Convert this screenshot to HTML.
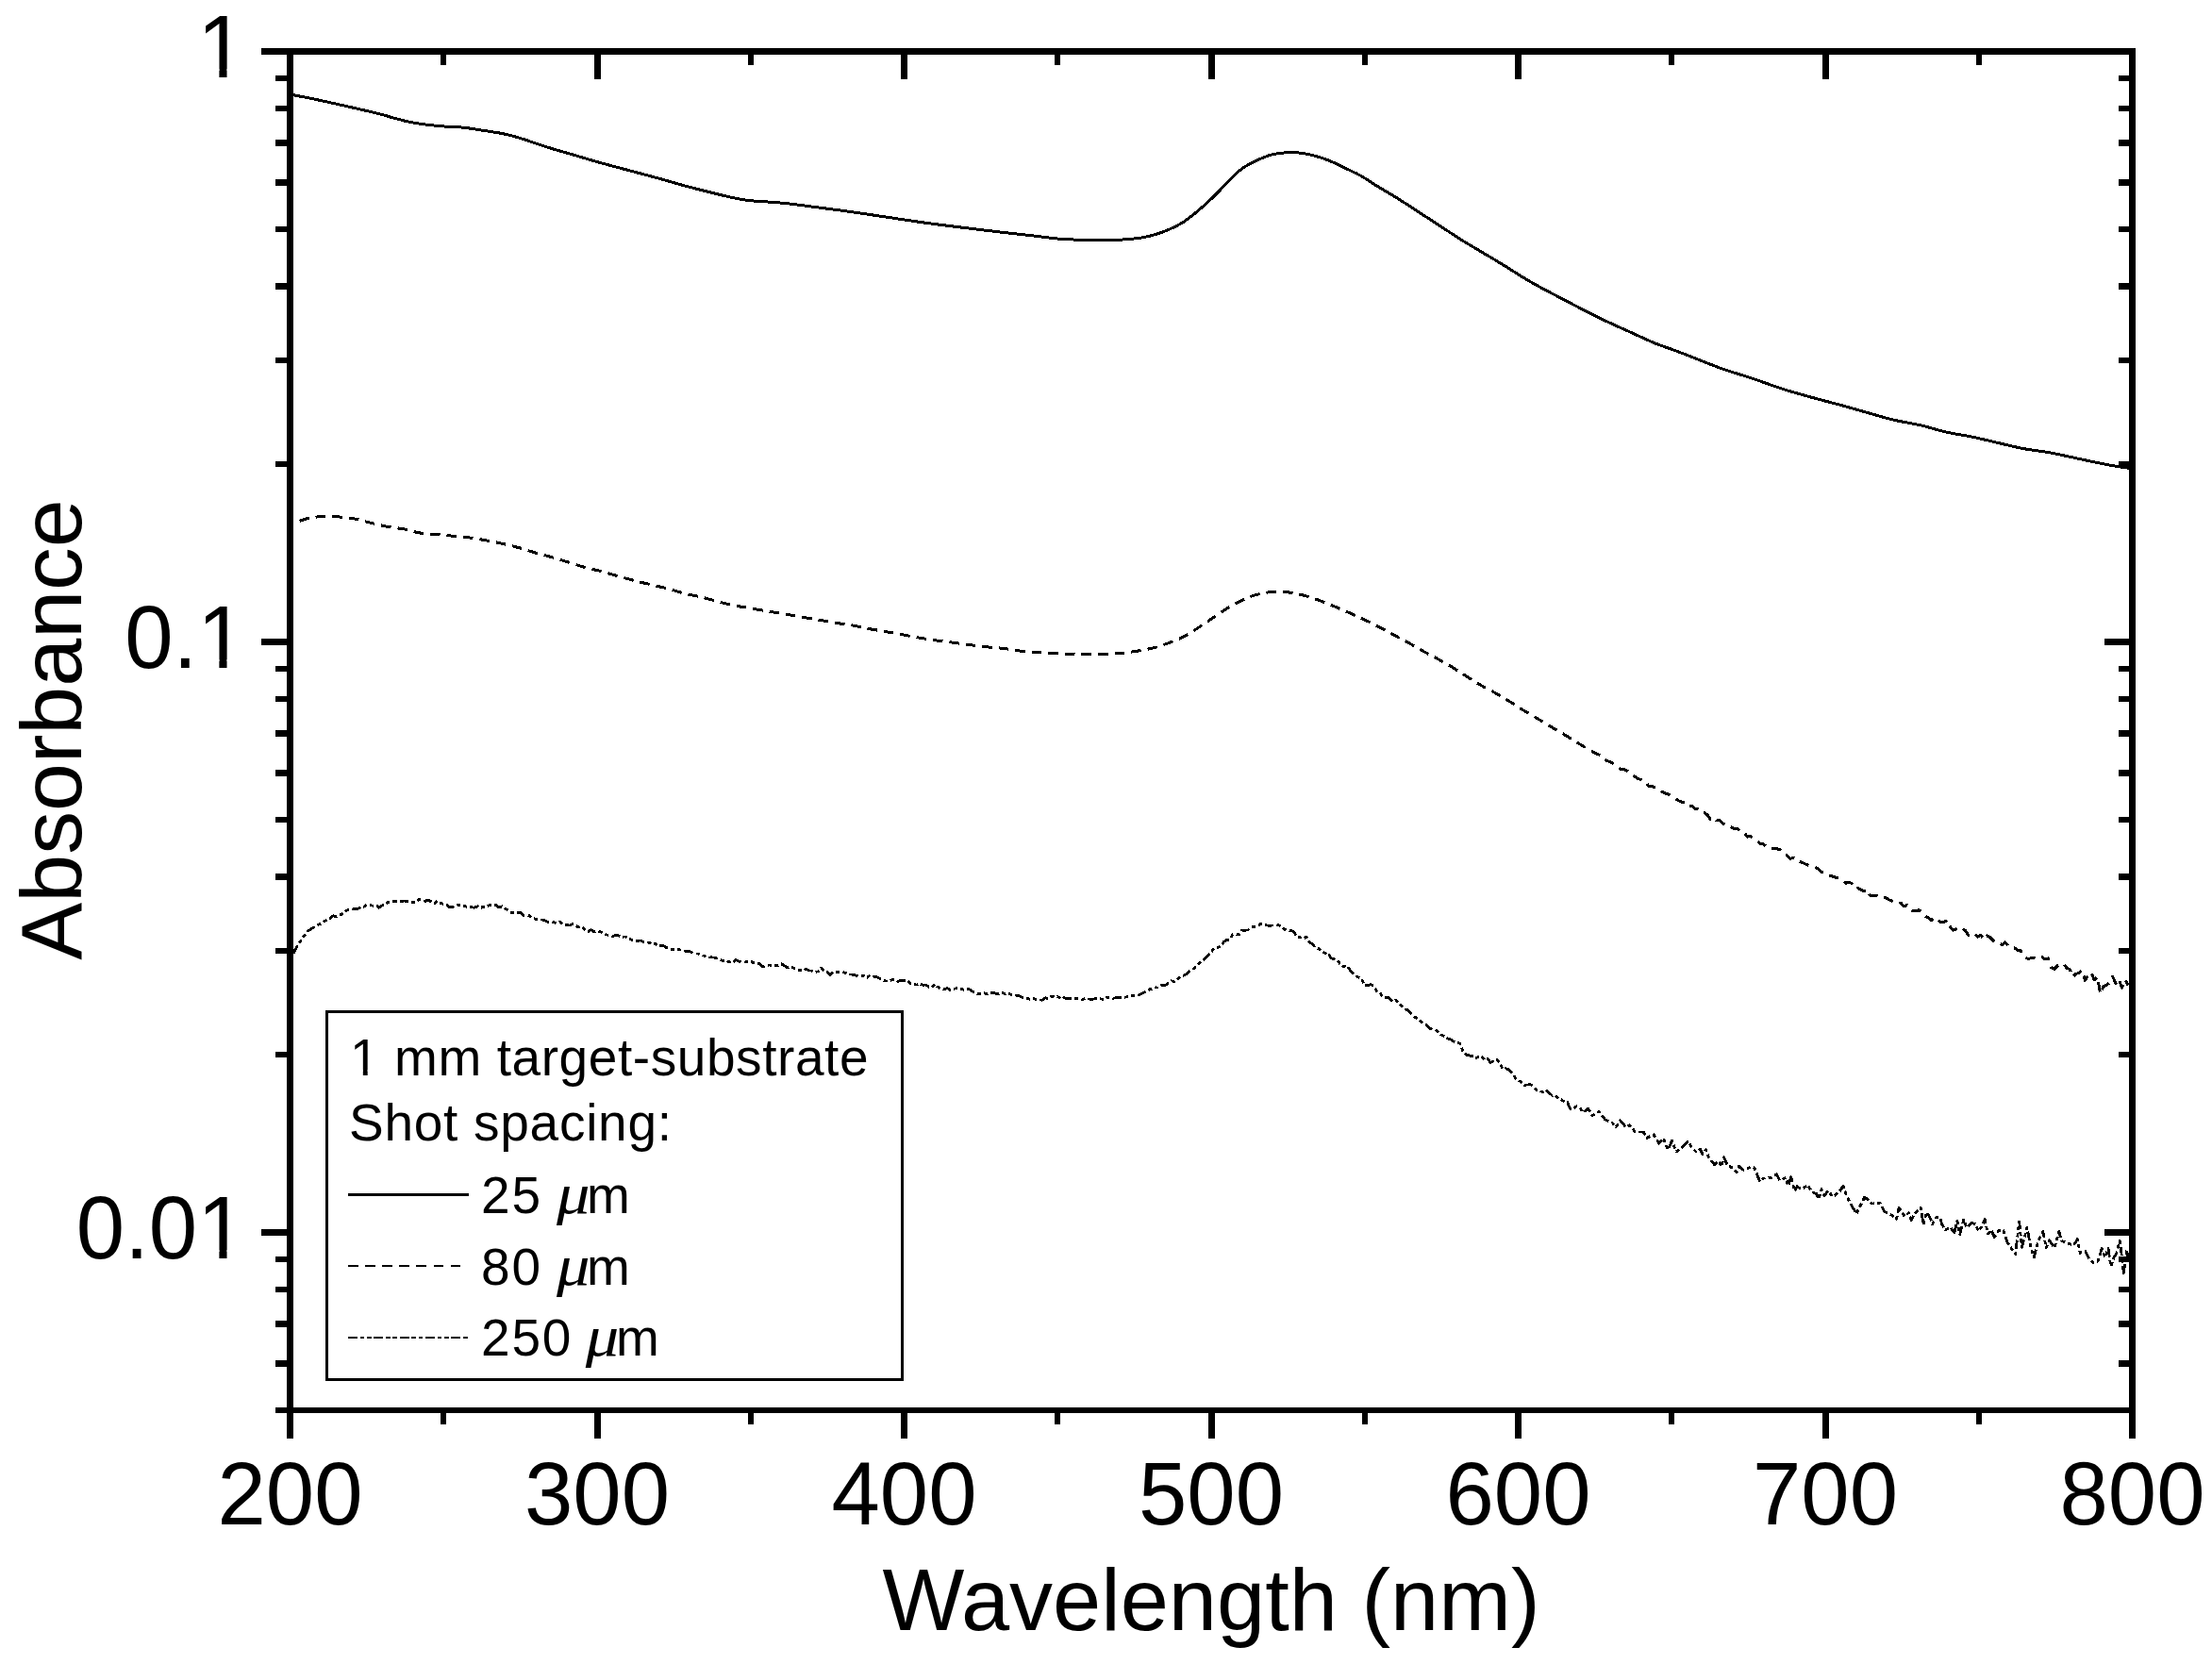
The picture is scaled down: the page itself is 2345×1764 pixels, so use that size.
<!DOCTYPE html>
<html lang="en"><head><meta charset="utf-8"><title>Absorbance vs Wavelength</title>
<style>html,body{margin:0;padding:0;background:#fff;overflow:hidden}svg{display:block}</style></head>
<body>
<svg width="2345" height="1764" viewBox="0 0 2345 1764">
<rect width="2345" height="1764" fill="#fff"/>
<g id="axes" fill="#000" shape-rendering="crispEdges">
<rect x="304.00" y="51.00" width="7.00" height="1474.00"/>
<rect x="2257.00" y="51.00" width="7.00" height="1474.00"/>
<rect x="277.00" y="51.00" width="1987.00" height="7.00"/>
<rect x="292.00" y="1492.00" width="1972.00" height="6.00"/>
<rect x="467.05" y="1498.00" width="6.40" height="12.00"/>
<rect x="467.05" y="58.00" width="6.40" height="11.00"/>
<rect x="629.50" y="1498.00" width="7.00" height="27.00"/>
<rect x="629.50" y="58.00" width="7.00" height="26.00"/>
<rect x="792.55" y="1498.00" width="6.40" height="12.00"/>
<rect x="792.55" y="58.00" width="6.40" height="11.00"/>
<rect x="955.00" y="1498.00" width="7.00" height="27.00"/>
<rect x="955.00" y="58.00" width="7.00" height="26.00"/>
<rect x="1118.05" y="1498.00" width="6.40" height="12.00"/>
<rect x="1118.05" y="58.00" width="6.40" height="11.00"/>
<rect x="1280.50" y="1498.00" width="7.00" height="27.00"/>
<rect x="1280.50" y="58.00" width="7.00" height="26.00"/>
<rect x="1443.55" y="1498.00" width="6.40" height="12.00"/>
<rect x="1443.55" y="58.00" width="6.40" height="11.00"/>
<rect x="1606.00" y="1498.00" width="7.00" height="27.00"/>
<rect x="1606.00" y="58.00" width="7.00" height="26.00"/>
<rect x="1769.05" y="1498.00" width="6.40" height="12.00"/>
<rect x="1769.05" y="58.00" width="6.40" height="11.00"/>
<rect x="1931.50" y="1498.00" width="7.00" height="27.00"/>
<rect x="1931.50" y="58.00" width="7.00" height="26.00"/>
<rect x="2094.55" y="1498.00" width="6.40" height="12.00"/>
<rect x="2094.55" y="58.00" width="6.40" height="11.00"/>
<rect x="2231.00" y="51.00" width="26.00" height="7.00"/>
<rect x="292.00" y="79.84" width="12.00" height="6.60"/>
<rect x="2246.00" y="79.84" width="11.00" height="6.60"/>
<rect x="292.00" y="111.87" width="12.00" height="6.60"/>
<rect x="2246.00" y="111.87" width="11.00" height="6.60"/>
<rect x="292.00" y="148.17" width="12.00" height="6.60"/>
<rect x="2246.00" y="148.17" width="11.00" height="6.60"/>
<rect x="292.00" y="190.08" width="12.00" height="6.60"/>
<rect x="2246.00" y="190.08" width="11.00" height="6.60"/>
<rect x="292.00" y="239.64" width="12.00" height="6.60"/>
<rect x="2246.00" y="239.64" width="11.00" height="6.60"/>
<rect x="292.00" y="300.31" width="12.00" height="6.60"/>
<rect x="2246.00" y="300.31" width="11.00" height="6.60"/>
<rect x="292.00" y="378.52" width="12.00" height="6.60"/>
<rect x="2246.00" y="378.52" width="11.00" height="6.60"/>
<rect x="292.00" y="488.76" width="12.00" height="6.60"/>
<rect x="2246.00" y="488.76" width="11.00" height="6.60"/>
<rect x="277.00" y="677.00" width="27.00" height="7.00"/>
<rect x="2231.00" y="677.00" width="26.00" height="7.00"/>
<rect x="292.00" y="705.84" width="12.00" height="6.60"/>
<rect x="2246.00" y="705.84" width="11.00" height="6.60"/>
<rect x="292.00" y="737.87" width="12.00" height="6.60"/>
<rect x="2246.00" y="737.87" width="11.00" height="6.60"/>
<rect x="292.00" y="774.17" width="12.00" height="6.60"/>
<rect x="2246.00" y="774.17" width="11.00" height="6.60"/>
<rect x="292.00" y="816.08" width="12.00" height="6.60"/>
<rect x="2246.00" y="816.08" width="11.00" height="6.60"/>
<rect x="292.00" y="865.64" width="12.00" height="6.60"/>
<rect x="2246.00" y="865.64" width="11.00" height="6.60"/>
<rect x="292.00" y="926.31" width="12.00" height="6.60"/>
<rect x="2246.00" y="926.31" width="11.00" height="6.60"/>
<rect x="292.00" y="1004.52" width="12.00" height="6.60"/>
<rect x="2246.00" y="1004.52" width="11.00" height="6.60"/>
<rect x="292.00" y="1114.76" width="12.00" height="6.60"/>
<rect x="2246.00" y="1114.76" width="11.00" height="6.60"/>
<rect x="277.00" y="1303.00" width="27.00" height="7.00"/>
<rect x="2231.00" y="1303.00" width="26.00" height="7.00"/>
<rect x="292.00" y="1331.84" width="12.00" height="6.60"/>
<rect x="2246.00" y="1331.84" width="11.00" height="6.60"/>
<rect x="292.00" y="1363.87" width="12.00" height="6.60"/>
<rect x="2246.00" y="1363.87" width="11.00" height="6.60"/>
<rect x="292.00" y="1400.17" width="12.00" height="6.60"/>
<rect x="2246.00" y="1400.17" width="11.00" height="6.60"/>
<rect x="292.00" y="1442.08" width="12.00" height="6.60"/>
<rect x="2246.00" y="1442.08" width="11.00" height="6.60"/>
<rect x="2246.00" y="1492.00" width="11.00" height="6.00"/>
</g>
<g id="curves" fill="none" stroke="#000" stroke-linejoin="round" shape-rendering="crispEdges">
<path d="M310.8 100.7C314.6 101.5 324.4 103.2 333.9 105.2C343.4 107.2 356.5 110.1 367.8 112.7C379.1 115.3 393.4 118.5 401.7 120.6C410.0 122.7 411.9 123.6 417.5 125.1C423.1 126.6 429.6 128.4 435.6 129.6C441.6 130.8 447.7 131.6 453.7 132.3C459.7 133.1 465.4 133.6 471.8 134.1C478.2 134.6 485.0 134.5 492.1 135.3C499.2 136.1 507.5 137.6 514.7 138.7C521.9 139.8 528.7 140.7 535.1 142.1C541.5 143.5 545.7 144.7 553.2 147.0C560.7 149.3 571.3 153.3 580.3 156.1C589.3 158.9 598.7 161.4 607.4 164.0C616.1 166.6 623.2 168.8 632.3 171.4C641.3 174.0 651.2 176.5 661.7 179.3C672.2 182.1 684.3 185.3 695.6 188.4C706.9 191.5 718.2 194.9 729.5 197.9C740.8 200.9 754.4 204.3 763.4 206.5C772.4 208.7 777.6 209.9 783.7 211.0C789.8 212.1 792.0 212.4 800.0 213.1C808.0 213.8 820.3 214.2 831.6 215.4C842.9 216.6 856.1 218.5 867.8 220.0C879.5 221.5 890.4 222.9 901.7 224.5C913.0 226.1 922.4 227.6 935.6 229.5C948.8 231.4 965.7 234.1 980.8 236.2C995.9 238.3 1012.8 240.3 1026.0 241.9C1039.2 243.5 1048.7 244.7 1060.0 246.0C1071.3 247.3 1083.4 248.6 1093.9 249.8C1104.4 251.0 1114.6 252.4 1123.2 253.2C1131.8 253.9 1138.3 254.0 1145.8 254.3C1153.3 254.6 1161.2 254.8 1168.4 254.8C1175.6 254.8 1182.4 254.5 1188.8 254.1C1195.2 253.7 1201.6 253.2 1206.9 252.5C1212.2 251.8 1215.5 251.1 1220.4 249.8C1225.3 248.5 1231.0 246.8 1236.3 244.6C1241.6 242.4 1247.2 239.8 1252.1 236.9C1257.0 234.0 1261.1 230.8 1265.6 227.2C1270.1 223.6 1275.0 219.2 1279.2 215.4C1283.4 211.6 1287.0 208.1 1290.5 204.6C1294.0 201.1 1296.1 198.3 1300.0 194.4C1303.9 190.5 1309.7 184.4 1313.9 180.9C1318.1 177.4 1321.1 175.9 1325.2 173.6C1329.3 171.3 1334.7 169.0 1338.8 167.3C1342.9 165.6 1345.6 164.4 1350.1 163.5C1354.6 162.6 1361.0 161.8 1365.9 161.6C1370.8 161.4 1375.0 161.7 1379.5 162.3C1384.0 162.9 1388.1 163.7 1393.0 165.0C1397.9 166.3 1403.1 167.9 1408.8 170.2C1414.5 172.5 1421.2 175.9 1426.9 178.6C1432.6 181.3 1437.2 183.3 1442.8 186.5C1448.4 189.7 1454.0 193.7 1460.8 197.8C1467.6 202.0 1475.9 206.7 1483.4 211.4C1490.9 216.1 1498.5 221.2 1506.0 226.1C1513.5 231.0 1521.1 235.9 1528.6 240.8C1536.1 245.7 1543.7 250.8 1551.2 255.5C1558.8 260.2 1566.4 264.5 1573.9 269.0C1581.5 273.5 1589.0 278.0 1596.5 282.6C1604.0 287.2 1611.6 292.4 1619.1 296.8C1626.6 301.2 1634.2 305.2 1641.7 309.2C1649.2 313.2 1656.8 317.1 1664.3 321.0C1671.8 324.9 1679.4 329.0 1686.9 332.8C1694.4 336.6 1702.0 340.1 1709.5 343.6C1717.0 347.1 1724.6 350.4 1732.1 353.8C1739.6 357.2 1748.4 361.4 1754.7 364.0C1761.0 366.6 1763.7 367.2 1770.0 369.5C1776.3 371.8 1783.6 374.5 1792.6 378.0C1801.6 381.5 1813.7 386.6 1824.2 390.4C1834.8 394.2 1845.0 397.0 1855.9 400.6C1866.8 404.2 1879.2 408.9 1889.8 412.3C1900.3 415.7 1909.0 418.1 1919.2 420.9C1929.4 423.7 1940.2 426.4 1950.8 429.3C1961.3 432.2 1973.1 435.7 1982.5 438.3C1991.9 440.9 1998.3 443.0 2007.3 445.1C2016.3 447.2 2027.3 448.8 2036.7 451.0C2046.1 453.2 2054.8 456.2 2063.9 458.2C2073.0 460.2 2081.6 461.2 2091.0 463.2C2100.4 465.2 2111.4 467.9 2120.4 470.0C2129.4 472.1 2136.5 474.0 2145.2 475.6C2153.9 477.2 2163.3 478.1 2172.4 479.7C2181.5 481.3 2191.2 483.6 2199.5 485.4C2207.8 487.2 2215.3 488.9 2222.1 490.3C2228.9 491.7 2234.4 492.7 2240.2 493.7C2246.0 494.7 2254.2 495.9 2257.0 496.3" stroke-width="3"/>
<path d="M317.6 552.4C319.2 551.9 323.2 550.1 327.1 549.3C331.0 548.5 335.4 547.9 340.7 547.7C346.0 547.5 352.8 547.5 358.8 547.9C364.8 548.3 371.2 549.2 376.9 550.2C382.5 551.2 387.0 552.9 392.7 554.2C398.4 555.6 404.8 557.2 410.8 558.3C416.8 559.4 423.2 559.9 428.8 561.0C434.4 562.1 439.1 564.0 444.7 564.9C450.3 565.8 456.7 565.9 462.7 566.5C468.7 567.1 474.8 567.7 480.8 568.3C486.8 568.9 492.9 569.3 498.9 570.1C504.9 570.9 511.0 572.1 517.0 573.2C523.0 574.3 529.5 575.6 535.1 576.9C540.8 578.2 545.4 579.4 550.9 580.9C556.4 582.4 562.1 584.4 567.9 586.1C573.7 587.8 579.9 589.2 585.9 590.9C591.9 592.6 598.1 594.7 604.0 596.5C609.9 598.3 615.4 600.2 621.0 601.7C626.6 603.2 632.1 604.2 637.9 605.8C643.7 607.3 650.1 609.4 656.0 611.0C661.9 612.6 667.2 614.2 673.0 615.7C678.8 617.2 685.0 618.6 691.0 620.0C697.0 621.4 703.2 622.8 709.1 624.3C715.0 625.8 720.5 627.9 726.1 629.3C731.8 630.7 737.4 631.5 743.0 632.9C748.6 634.2 754.4 635.9 760.0 637.4C765.6 638.9 771.1 640.5 776.9 641.7C782.7 642.9 788.5 643.5 794.7 644.6C800.9 645.7 807.9 647.1 813.9 648.1C819.9 649.1 825.1 649.8 830.9 650.8C836.7 651.8 843.1 653.0 848.9 654.0C854.7 655.0 860.0 655.7 865.9 656.7C871.8 657.7 878.0 659.1 884.0 660.1C890.0 661.1 896.3 661.6 902.1 662.6C907.9 663.6 913.2 665.1 919.0 666.2C924.8 667.3 931.1 668.2 937.1 669.3C943.1 670.3 949.2 671.4 955.2 672.5C961.2 673.6 967.3 674.9 973.3 675.9C979.3 676.9 985.3 677.9 991.3 678.8C997.3 679.7 1003.4 680.3 1009.4 681.1C1015.4 681.9 1021.5 682.8 1027.5 683.6C1033.5 684.4 1039.6 685.2 1045.6 685.8C1051.6 686.4 1057.7 686.7 1063.7 687.4C1069.7 688.1 1075.8 689.4 1081.8 690.1C1087.8 690.8 1093.8 691.1 1099.8 691.5C1105.8 691.9 1111.9 692.1 1117.9 692.4C1123.9 692.7 1130.2 693.2 1136.0 693.5C1141.8 693.8 1147.2 694.0 1153.0 694.0C1158.8 694.0 1165.0 693.8 1171.0 693.5C1177.0 693.2 1183.1 693.0 1189.1 692.4C1195.1 691.8 1201.2 690.9 1207.2 689.9C1213.2 688.9 1219.0 687.9 1224.8 686.3C1230.6 684.7 1236.7 682.6 1242.2 680.4C1247.8 678.2 1252.7 676.2 1258.1 673.2C1263.5 670.2 1269.4 666.0 1274.8 662.5C1280.2 659.0 1285.4 655.2 1290.5 651.9C1295.6 648.5 1299.9 645.4 1305.2 642.4C1310.5 639.4 1316.6 636.1 1322.2 633.8C1327.8 631.5 1333.3 629.9 1339.1 628.8C1344.8 627.7 1350.8 627.1 1356.7 627.2C1362.6 627.3 1368.3 628.1 1374.2 629.3C1380.1 630.5 1386.4 632.3 1392.2 634.2C1398.0 636.1 1403.6 638.3 1409.2 640.6C1414.8 642.9 1420.4 645.3 1426.1 647.8C1431.8 650.2 1437.4 652.7 1443.1 655.3C1448.8 657.9 1454.5 660.8 1460.0 663.6C1465.5 666.4 1470.6 669.4 1475.9 672.2C1481.2 675.0 1486.4 677.7 1491.7 680.6C1497.0 683.5 1502.4 686.8 1507.5 689.6C1512.6 692.4 1517.0 694.7 1522.2 697.5C1527.4 700.3 1533.0 703.3 1538.5 706.6C1544.0 709.9 1549.7 713.9 1555.0 717.2C1560.3 720.5 1565.0 723.6 1570.1 726.5C1575.2 729.4 1580.4 731.9 1585.5 734.8C1590.6 737.7 1596.0 740.9 1600.9 743.9C1605.8 746.9 1610.1 750.0 1614.9 752.9C1619.7 755.8 1624.7 758.6 1629.6 761.5C1634.5 764.4 1639.1 767.4 1644.3 770.5C1649.5 773.6 1655.0 776.7 1660.5 780.0C1666.0 783.3 1671.6 787.0 1677.0 790.2C1682.4 793.4 1690.2 797.8 1692.9 799.3L1696.2 800.5 1699.4 803.7 1702.7 806.3 1705.9 807.2 1709.2 808.7 1712.4 811.4 1715.7 813.6 1718.9 815.8 1722.2 815.7 1725.5 817.4 1728.7 820.7 1732.0 822.3 1735.2 824.9 1738.5 826.2 1741.7 827.2 1745.0 829.2 1748.2 833.8 1751.5 833.6 1754.7 835.3 1758.0 836.5 1761.3 839.1 1764.5 840.6 1767.8 841.7 1771.0 843.5 1774.3 845.4 1777.5 847.5 1780.8 849.5 1784.0 850.4 1787.3 850.3 1790.6 854.5 1793.8 854.3 1797.1 857.3 1800.3 857.8 1803.6 860.7 1806.8 861.4 1810.1 863.9 1813.3 868.5 1816.6 867.0 1819.8 869.9 1823.1 869.6 1826.4 872.6 1829.6 875.1 1832.9 875.7 1836.1 877.6 1839.4 878.7 1842.6 879.0 1845.9 882.3 1849.1 882.4 1852.4 887.1 1855.7 886.3 1858.9 889.7 1862.2 890.9 1865.4 894.0 1868.7 894.0 1871.9 896.9 1875.2 896.6 1878.4 899.2 1881.7 899.5 1884.9 900.1 1888.2 901.1 1891.5 905.1 1894.7 906.8 1898.0 910.3 1901.2 909.3 1904.5 912.0 1907.7 913.4 1911.0 914.6 1914.2 916.0 1917.5 917.5 1920.8 917.9 1924.0 918.9 1927.3 921.1 1930.5 923.7 1933.8 926.3 1937.0 926.9 1940.3 928.3 1943.5 929.3 1946.8 930.5 1950.0 931.2 1953.3 933.4 1956.6 936.3 1959.8 935.2 1963.1 936.4 1966.3 942.0 1969.6 941.2 1972.8 943.5 1976.1 944.6 1979.3 942.9 1982.6 949.4 1985.9 949.9 1989.1 949.0 1992.4 951.4 1995.6 952.0 1998.9 951.7 2002.1 953.6 2005.4 955.0 2008.6 956.8 2011.9 956.9 2015.1 957.1 2018.4 960.9 2021.7 959.4 2024.9 963.6 2028.2 965.9 2031.4 965.4 2034.7 964.8 2037.9 967.9 2041.2 971.2 2044.4 972.8 2047.7 975.6 2051.0 972.4 2054.2 975.2 2057.5 977.7 2060.7 977.7 2064.0 975.4 2067.2 982.2 2070.5 986.2 2073.7 984.9 2077.0 982.6 2080.2 984.4 2083.5 986.6 2086.8 991.6 2090.0 989.4 2093.3 989.7 2096.5 993.3 2099.8 991.3 2103.0 995.7 2106.3 992.0 2109.5 993.3 2112.8 996.9 2116.1 999.9 2119.3 1000.2 2122.6 1001.4 2125.8 999.0 2129.1 1003.0 2132.3 1004.1 2135.6 1004.7 2138.8 1007.5 2142.1 1007.7 2145.3 1013.9 2148.6 1016.0 2151.9 1016.0 2155.1 1015.4 2158.4 1014.6 2161.6 1015.6 2164.9 1014.3 2168.1 1017.0 2171.4 1016.0 2174.6 1025.7 2177.9 1027.2 2181.2 1023.7 2184.4 1023.3 2187.7 1021.6 2190.9 1026.1 2194.2 1027.6 2197.4 1035.7 2200.7 1032.3 2203.9 1031.4 2207.2 1028.5 2210.4 1039.4 2213.7 1034.4 2217.0 1030.9 2220.2 1039.0 2223.5 1035.4 2226.7 1053.6 2230.0 1045.8 2233.2 1044.2 2236.5 1041.7 2239.7 1035.1 2243.0 1042.7 2246.3 1037.9 2249.5 1047.1 2252.8 1038.5 2256.0 1044.7" stroke-width="3" stroke-dasharray="10.6 7.0"/>
<polyline points="310.8,1010.8 314.1,1004.6 317.3,999.6 320.6,994.7 323.8,990.4 327.1,986.5 330.3,984.3 333.6,982.8 336.8,980.3 340.1,979.3 343.3,976.9 346.6,975.5 349.9,974.0 353.1,970.8 356.4,972.0 359.6,970.3 362.9,969.1 366.1,965.8 369.4,964.5 372.6,964.2 375.9,963.5 379.2,963.2 382.4,961.8 385.7,961.3 388.9,959.0 392.2,959.7 395.4,960.2 398.7,959.6 401.9,962.2 405.2,959.9 408.4,959.3 411.7,956.3 415.0,955.5 418.2,955.6 421.5,955.4 424.7,955.8 428.0,955.0 431.2,955.5 434.5,956.6 437.7,956.6 441.0,956.8 444.3,953.2 447.5,954.5 450.8,955.3 454.0,953.9 457.3,956.0 460.5,957.9 463.8,955.2 467.0,957.5 470.3,958.5 473.5,959.2 476.8,961.9 480.1,961.5 483.3,958.7 486.6,959.6 489.8,959.5 493.1,960.6 496.3,961.9 499.6,961.6 502.8,962.2 506.1,960.8 509.4,962.5 512.6,961.1 515.9,961.1 519.1,959.6 522.4,959.2 525.6,959.1 528.9,962.0 532.1,960.8 535.4,962.6 538.6,965.3 541.9,967.5 545.2,968.0 548.4,967.3 551.7,967.6 554.9,970.6 558.2,970.4 561.4,970.8 564.7,973.3 567.9,974.2 571.2,974.2 574.5,975.0 577.7,976.0 581.0,977.5 584.2,977.4 587.5,977.9 590.7,978.5 594.0,977.4 597.2,980.3 600.5,980.7 603.7,981.0 607.0,979.6 610.3,981.3 613.5,983.0 616.8,982.3 620.0,985.3 623.3,987.8 626.5,985.7 629.8,987.8 633.0,987.0 636.3,987.7 639.6,989.4 642.8,990.9 646.1,991.6 649.3,992.7 652.6,991.5 655.8,991.9 659.1,993.3 662.3,993.0 665.6,993.4 668.8,996.1 672.1,997.6 675.4,997.3 678.6,997.0 681.9,998.4 685.1,998.9 688.4,999.2 691.6,1001.4 694.9,1000.4 698.1,1003.2 701.4,1002.1 704.7,1003.4 707.9,1005.4 711.2,1006.2 714.4,1006.5 717.7,1006.6 720.9,1006.9 724.2,1007.4 727.4,1008.4 730.7,1008.6 733.9,1009.8 737.2,1010.8 740.5,1011.1 743.7,1012.6 747.0,1013.3 750.2,1015.3 753.5,1014.8 756.7,1015.0 760.0,1015.9 763.2,1017.0 766.5,1018.5 769.8,1018.4 773.0,1019.6 776.3,1020.9 779.5,1017.5 782.8,1018.8 786.0,1020.0 789.3,1020.0 792.5,1019.7 795.8,1019.0 799.0,1020.8 802.3,1021.4 805.6,1021.7 808.8,1025.0 812.1,1023.6 815.3,1023.0 818.6,1023.4 821.8,1023.4 825.1,1023.7 828.3,1021.7 831.6,1023.9 834.9,1025.8 838.1,1024.7 841.4,1026.3 844.6,1027.8 847.9,1028.4 851.1,1029.4 854.4,1027.3 857.6,1028.8 860.9,1029.3 864.1,1030.4 867.4,1029.9 870.7,1026.1 873.9,1029.6 877.2,1030.3 880.4,1033.5 883.7,1030.3 886.9,1030.2 890.2,1030.7 893.4,1030.4 896.7,1031.5 900.0,1032.8 903.2,1033.1 906.5,1033.7 909.7,1035.1 913.0,1034.9 916.2,1033.9 919.5,1036.4 922.7,1033.4 926.0,1035.2 929.2,1035.4 932.5,1037.2 935.8,1039.1 939.0,1039.9 942.3,1040.3 945.5,1038.6 948.8,1038.7 952.0,1040.5 955.3,1039.3 958.5,1039.3 961.8,1039.6 965.1,1042.5 968.3,1042.8 971.6,1044.1 974.8,1042.8 978.1,1044.2 981.3,1044.0 984.6,1046.2 987.8,1046.3 991.1,1043.3 994.3,1046.3 997.6,1048.6 1000.9,1048.9 1004.1,1047.3 1007.4,1049.8 1010.6,1048.3 1013.9,1047.7 1017.1,1048.6 1020.4,1048.9 1023.6,1050.0 1026.9,1048.2 1030.2,1050.7 1033.4,1052.3 1036.7,1053.6 1039.9,1053.6 1043.2,1052.7 1046.4,1053.7 1049.7,1052.5 1052.9,1052.1 1056.2,1053.8 1059.5,1053.3 1062.7,1052.6 1066.0,1054.0 1069.2,1052.8 1072.5,1054.9 1075.7,1055.0 1079.0,1055.2 1082.2,1056.7 1085.5,1058.3 1088.7,1058.3 1092.0,1059.4 1095.3,1058.5 1098.5,1059.5 1101.8,1059.9 1105.0,1060.2 1108.3,1057.9 1111.5,1058.7 1114.8,1056.0 1118.0,1056.9 1121.3,1056.5 1124.6,1059.2 1127.8,1057.7 1131.1,1058.9 1134.3,1058.6 1137.6,1058.6 1140.8,1058.1 1144.1,1058.6 1147.3,1059.7 1150.6,1058.2 1153.8,1058.9 1157.1,1059.5 1160.4,1058.8 1163.6,1058.2 1166.9,1058.9 1170.1,1059.7 1173.4,1057.1 1176.6,1057.4 1179.9,1058.3 1183.1,1057.7 1186.4,1057.1 1189.7,1057.7 1192.9,1057.2 1196.2,1056.1 1199.4,1055.2 1202.7,1055.2 1205.9,1055.8 1209.2,1054.0 1212.4,1052.3 1215.7,1050.9 1218.9,1048.8 1222.2,1048.7 1225.5,1046.9 1228.7,1047.1 1232.0,1044.0 1235.2,1044.6 1238.5,1042.4 1241.7,1039.8 1245.0,1040.4 1248.2,1037.9 1251.5,1034.7 1254.8,1034.1 1258.0,1032.4 1261.3,1029.2 1264.5,1027.4 1267.8,1024.6 1271.0,1021.7 1274.3,1018.6 1277.5,1016.5 1280.8,1012.9 1284.0,1009.8 1287.3,1004.7 1290.6,1004.9 1293.8,1002.8 1297.1,998.8 1300.3,996.4 1303.6,996.4 1306.8,990.7 1310.1,990.6 1313.3,990.8 1316.6,986.1 1319.9,986.2 1323.1,985.9 1326.4,982.9 1329.6,982.6 1332.9,982.0 1336.1,979.6 1339.4,980.4 1342.6,980.8 1345.9,981.4 1349.1,980.9 1352.4,981.1 1355.7,980.8 1358.9,982.8 1362.2,985.5 1365.4,986.0 1368.7,986.5 1371.9,988.1 1375.2,993.7 1378.4,993.7 1381.7,995.1 1385.0,993.2 1388.2,999.0 1391.5,1001.1 1394.7,1004.9 1398.0,1005.7 1401.2,1007.5 1404.5,1010.4 1407.7,1009.5 1411.0,1015.5 1414.2,1016.7 1417.5,1017.5 1420.8,1022.1 1424.0,1024.7 1427.3,1023.3 1430.5,1027.3 1433.8,1031.6 1437.0,1034.4 1440.3,1036.1 1443.5,1037.8 1446.8,1044.4 1450.1,1044.9 1453.3,1043.6 1456.6,1045.2 1459.8,1051.4 1463.1,1053.0 1466.3,1056.8 1469.6,1057.9 1472.8,1057.7 1476.1,1061.6 1479.3,1060.0 1482.6,1063.6 1485.9,1066.2 1489.1,1069.7 1492.4,1070.6 1495.6,1074.1 1498.9,1077.4 1502.1,1079.6 1505.4,1082.4 1508.6,1084.2 1511.9,1085.9 1515.2,1090.0 1518.4,1091.1 1521.7,1091.9 1524.9,1094.3 1528.2,1097.2 1531.4,1098.7 1534.7,1100.7 1537.9,1102.1 1541.2,1104.1 1544.4,1105.4 1547.7,1106.1 1551.0,1114.6 1554.2,1118.1 1557.5,1118.9 1560.7,1119.6 1564.0,1122.1 1567.2,1120.4 1570.5,1119.5 1573.7,1123.5 1577.0,1122.6 1580.3,1126.6 1583.5,1124.7 1586.8,1123.1 1590.0,1127.1 1593.3,1133.3 1596.5,1132.7 1599.8,1133.8 1603.0,1137.6 1606.3,1142.6 1609.5,1145.1 1612.8,1147.1 1616.1,1150.4 1619.3,1150.0 1622.6,1149.6 1625.8,1152.1 1629.1,1155.7 1632.3,1156.1 1635.6,1157.8 1638.8,1155.2 1642.1,1158.3 1645.4,1161.3 1648.6,1160.7 1651.9,1164.9 1655.1,1165.7 1658.4,1168.1 1661.6,1168.3 1664.9,1176.1 1668.1,1175.2 1671.4,1172.8 1674.6,1173.8 1677.9,1179.4 1683.6,1175.3 1688.0,1182.5 1695.2,1178.2 1701.7,1186.9 1708.9,1189.8 1713.3,1194.8 1717.6,1187.6 1723.4,1194.8 1727.7,1192.7 1733.5,1199.9 1742.2,1199.9 1745.8,1206.4 1753.1,1202.8 1758.8,1212.2 1763.2,1206.4 1768.2,1218.7 1772.6,1209.3 1776.9,1220.9 1782.7,1217.3 1789.2,1210.0 1794.3,1217.3 1798.6,1221.6 1802.2,1218.0 1805.1,1223.8 1808.8,1218.7 1810.9,1226.0 1817.4,1234.6 1822.5,1231.0 1824.7,1236.8 1827.6,1226.7 1831.2,1235.4 1837.0,1238.2 1841.3,1242.6 1843.5,1236.1 1848.5,1240.4 1856.5,1236.8 1860.1,1238.2 1863.0,1246.2 1865.9,1252.7 1869.5,1249.1 1878.2,1248.4 1883.3,1244.8 1886.9,1251.3 1893.4,1248.4 1895.6,1257.1 1899.2,1246.2 1899.9,1253.4 1902.8,1262.8 1905.0,1257.8 1910.0,1260.7 1916.5,1256.3 1920.9,1263.6 1925.9,1265.7 1928.1,1271.5 1931.0,1260.7 1933.9,1267.9 1938.2,1262.1 1942.6,1268.6 1946.2,1266.5 1949.8,1263.6 1954.1,1257.1 1957.0,1265.7 1959.9,1272.2 1963.5,1278.8 1967.9,1286.7 1972.9,1276.6 1976.6,1269.3 1980.0,1271.4 1984.1,1276.1 1992.9,1275.4 1997.6,1284.3 2005.8,1288.3 2010.5,1292.4 2013.2,1280.2 2019.3,1289.7 2023.4,1285.6 2026.1,1293.7 2030.2,1286.3 2036.3,1280.2 2039.0,1298.5 2042.4,1284.9 2046.5,1291.7 2048.5,1297.8 2052.6,1290.4 2056.6,1290.4 2058.7,1297.8 2062.1,1303.9 2068.2,1301.2 2071.6,1308.0 2074.9,1294.4 2077.7,1308.7 2081.7,1293.1 2085.1,1301.2 2089.9,1296.2 2094.6,1297.8 2097.3,1305.3 2101.4,1299.2 2104.1,1292.4 2107.5,1308.0 2110.9,1303.9 2114.3,1311.4 2119.0,1304.6 2123.8,1303.9 2127.8,1316.8 2131.9,1322.9 2136.7,1329.7 2138.7,1311.4 2140.7,1295.1 2143.4,1322.2 2148.9,1301.2 2152.9,1322.2 2156.3,1333.1 2160.4,1316.8 2165.8,1305.3 2169.2,1322.9 2172.6,1314.8 2178.0,1322.9 2182.8,1305.3 2185.5,1315.4 2190.9,1317.5 2198.4,1320.2 2202.4,1313.4 2205.1,1328.3 2210.6,1326.3 2214.6,1334.4 2218.7,1338.5 2224.1,1337.1 2228.2,1323.6 2231.6,1333.1 2235.0,1323.6 2237.7,1342.6 2240.4,1334.4 2243.8,1328.3 2247.2,1315.4 2249.2,1330.4 2251.3,1349.4 2254.6,1324.9 2256.7,1338.5" stroke-width="2.8" stroke-dasharray="9.6 3.1 4.3 3.1 4.3 3.1"/>
</g>
<g id="legend">
<rect x="346.5" y="1072.5" width="610" height="390" fill="#fff" stroke="#000" stroke-width="3" shape-rendering="crispEdges"/>
<g fill="none" stroke="#000" stroke-width="2.6" shape-rendering="crispEdges">
<line x1="369" y1="1266.5" x2="497" y2="1266.5" stroke-width="3"/>
<line x1="369" y1="1341.8" x2="489" y2="1341.8" stroke-dasharray="10.6 7.5"/>
<line x1="369" y1="1417.8" x2="496" y2="1417.8" stroke-dasharray="10 2.7 4.6 2.7 4.6 2.7"/>
</g>
<g font-family="'Liberation Sans', Arial, Helvetica, sans-serif" font-size="55.0" fill="#000">
<text x="371" y="1140" textLength="549.5" lengthAdjust="spacing">1 mm target-substrate</text>
<rect x="373.69" y="1134.09" width="11.14" height="7.11" fill="#fff"/><rect x="389.69" y="1134.09" width="10.71" height="7.11" fill="#fff"/>
<text x="370" y="1209" textLength="342" lengthAdjust="spacing">Shot spacing:</text>
<g><text x="510" y="1286" letter-spacing="1.8" style="white-space:pre">25 </text><text transform="translate(590.0,1286) scale(1.16,1)" font-family="'Liberation Serif', 'Times New Roman', Times, serif" font-style="italic" font-size="61">μ</text><text x="622.1" y="1286">m</text></g>
<g><text x="510" y="1361.5" letter-spacing="1.8" style="white-space:pre">80 </text><text transform="translate(590.0,1361.5) scale(1.16,1)" font-family="'Liberation Serif', 'Times New Roman', Times, serif" font-style="italic" font-size="61">μ</text><text x="622.1" y="1361.5">m</text></g>
<g><text x="510" y="1436.7" letter-spacing="1.8" style="white-space:pre">250 </text><text transform="translate(620.8,1436.7) scale(1.16,1)" font-family="'Liberation Serif', 'Times New Roman', Times, serif" font-style="italic" font-size="61">μ</text><text x="652.9" y="1436.7">m</text></g>
</g>
</g>
<g id="ticklabels" font-family="'Liberation Sans', Arial, Helvetica, sans-serif" font-size="92.3" fill="#000">
<text text-anchor="middle" transform="translate(307.5,1616.3) scale(1,1.02)">200</text>
<text text-anchor="middle" transform="translate(633.0,1616.3) scale(1,1.02)">300</text>
<text text-anchor="middle" transform="translate(958.5,1616.3) scale(1,1.02)">400</text>
<text text-anchor="middle" transform="translate(1284.0,1616.3) scale(1,1.02)">500</text>
<text text-anchor="middle" transform="translate(1609.5,1616.3) scale(1,1.02)">600</text>
<text text-anchor="middle" transform="translate(1935.0,1616.3) scale(1,1.02)">700</text>
<text text-anchor="middle" transform="translate(2260.5,1616.3) scale(1,1.02)">800</text>
<g transform="translate(260.5,82.0) scale(1,1.02)"><text text-anchor="end">1</text><rect x="-45.80" y="-8.70" width="17.68" height="9.90" fill="#fff"/><rect x="-19.97" y="-8.70" width="16.96" height="9.90" fill="#fff"/></g>
<g transform="translate(260.5,708.0) scale(1,1.02)"><text text-anchor="end">0.1</text><rect x="-45.80" y="-8.70" width="17.68" height="9.90" fill="#fff"/><rect x="-19.97" y="-8.70" width="16.96" height="9.90" fill="#fff"/></g>
<g transform="translate(260.5,1334.0) scale(1,1.02)"><text text-anchor="end">0.01</text><rect x="-45.80" y="-8.70" width="17.68" height="9.90" fill="#fff"/><rect x="-19.97" y="-8.70" width="16.96" height="9.90" fill="#fff"/></g>
</g>
<g id="titles" font-family="'Liberation Sans', Arial, Helvetica, sans-serif" fill="#000" text-anchor="middle">
<text font-size="92" x="1284" y="1728">Wavelength (nm)</text>
<text font-size="91.5" transform="translate(85.7,773.5) rotate(-90)">Absorbance</text>
</g>
</svg>
</body></html>
